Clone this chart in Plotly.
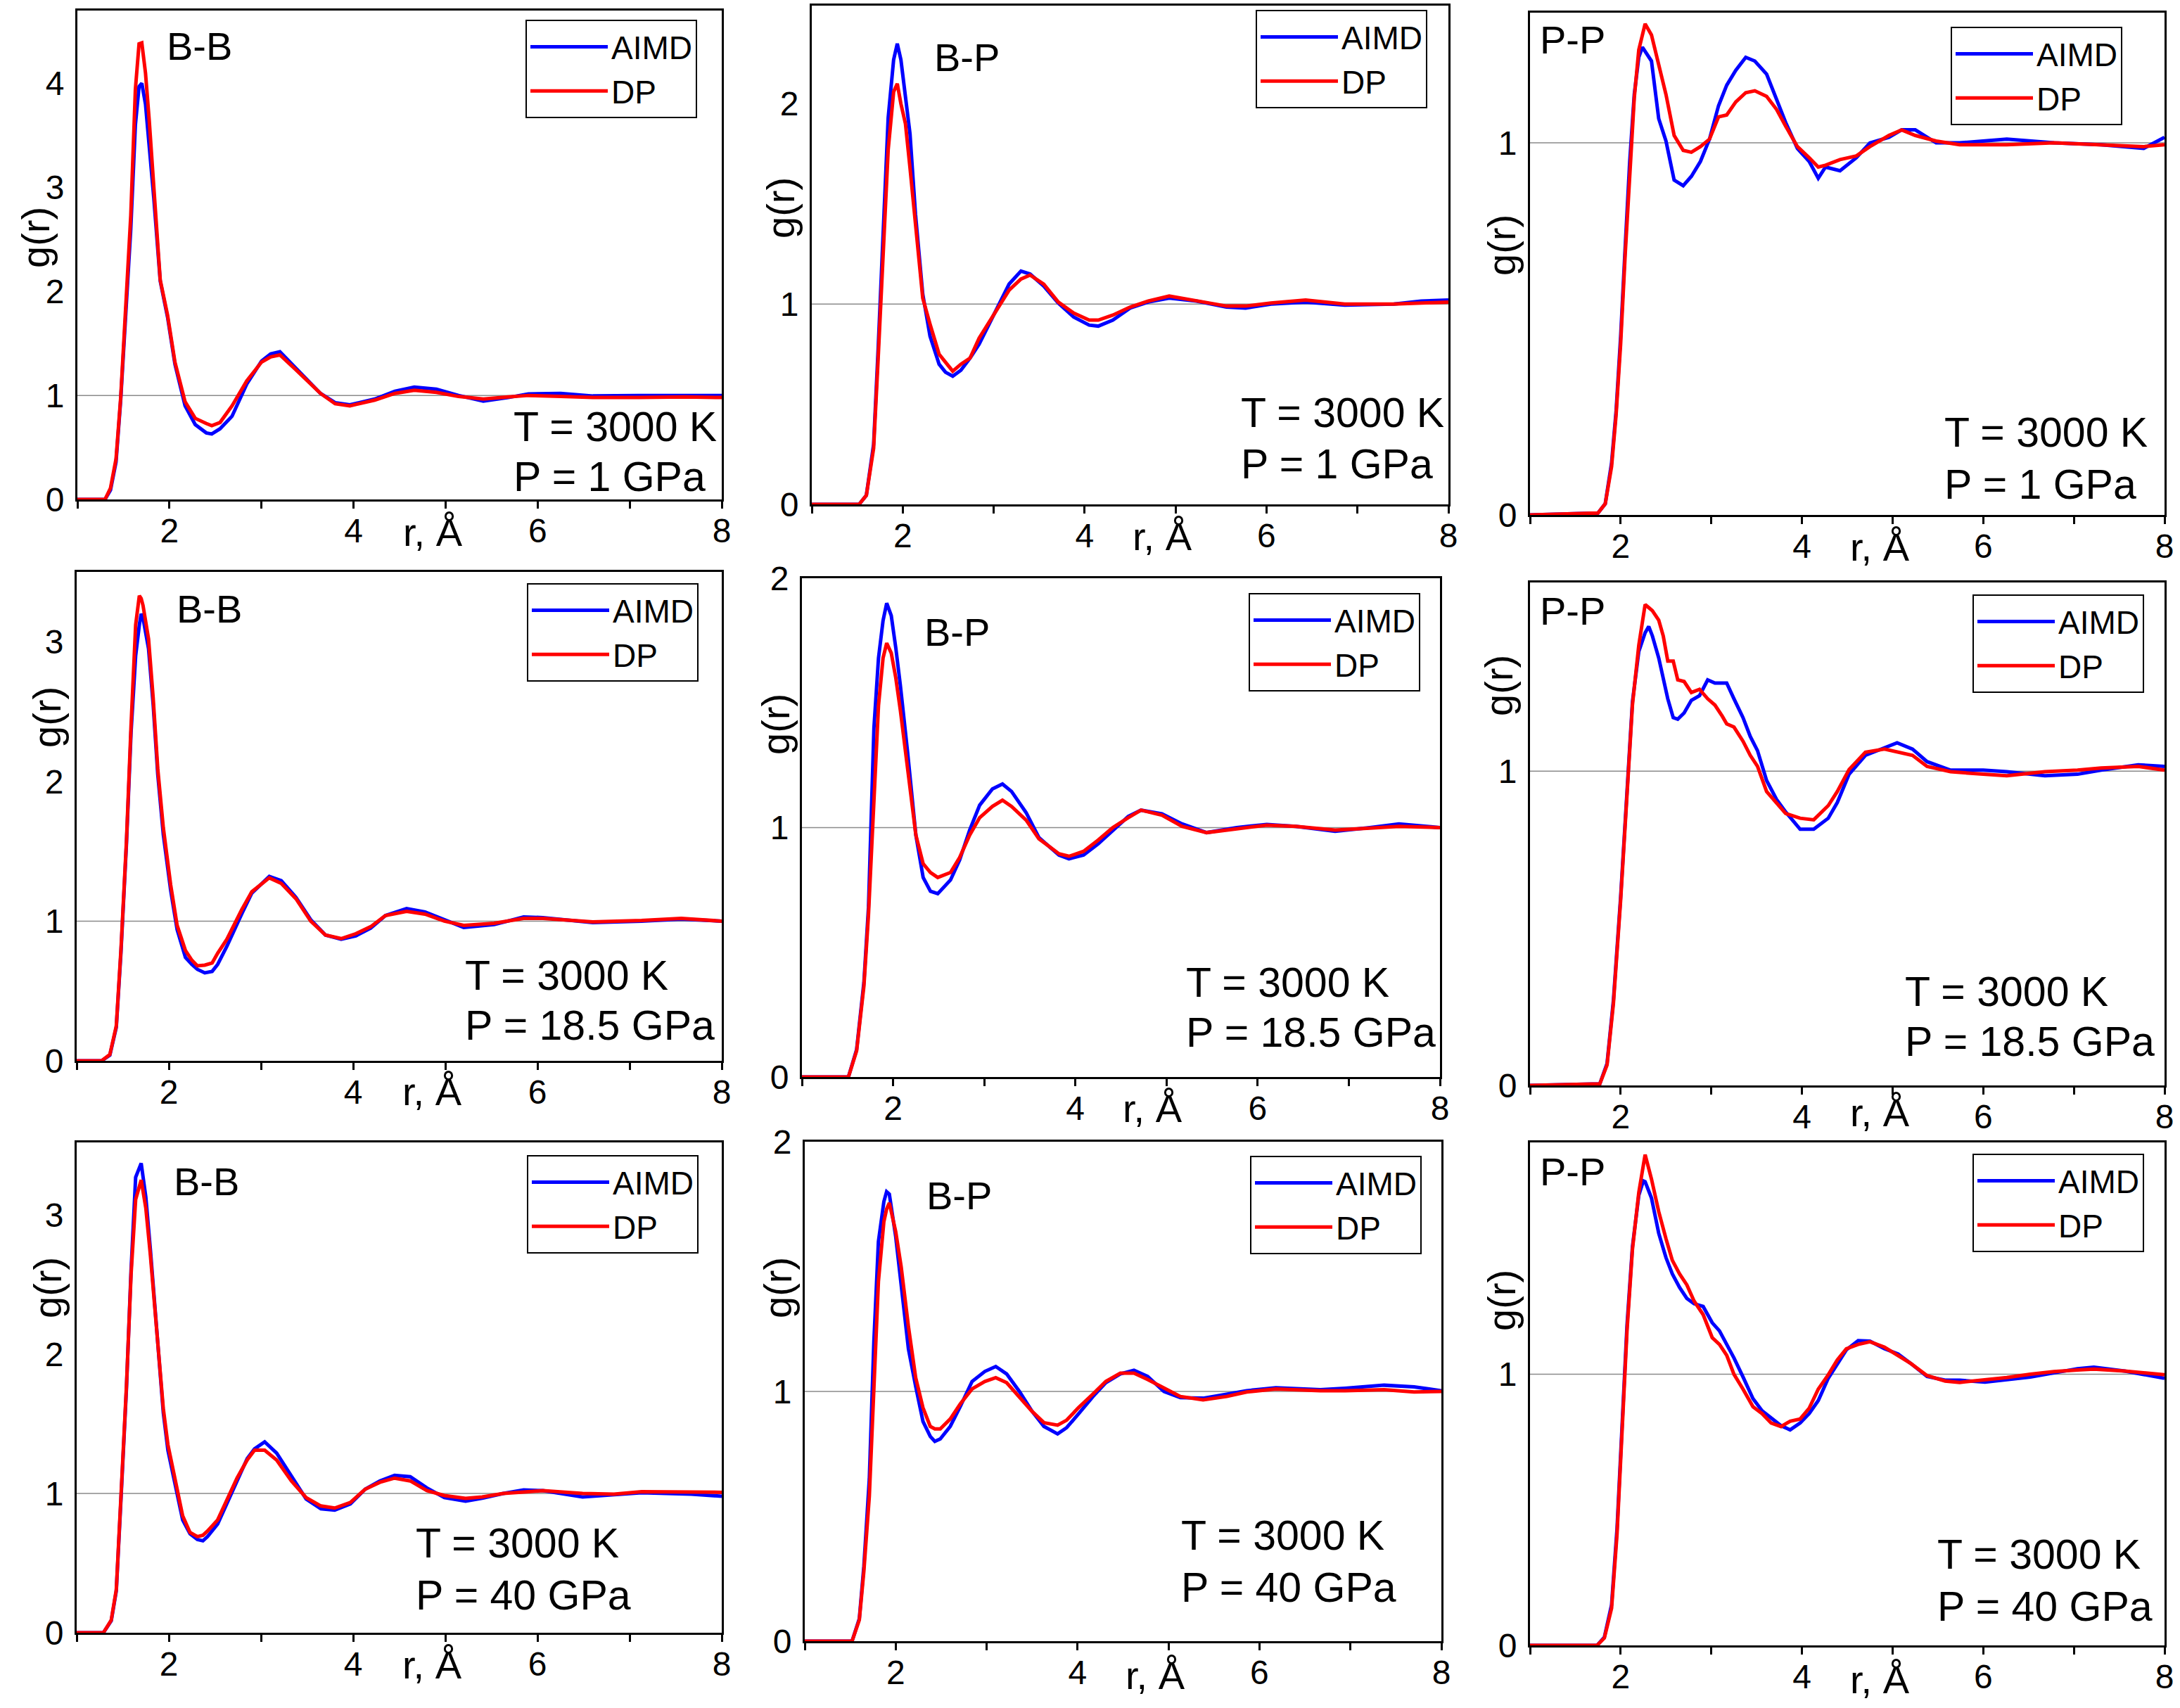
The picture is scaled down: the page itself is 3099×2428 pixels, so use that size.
import plotly.graph_objects as go

W, H = 3099, 2428

# ---- data (r in Angstrom, g(r)) ----
# B-B, 1 GPa
r_bb1 = [1.0, 1.3, 1.36, 1.42, 1.47, 1.52, 1.58, 1.63, 1.67, 1.70, 1.74, 1.78, 1.83, 1.90, 1.98,
         2.06, 2.17, 2.28, 2.40, 2.46, 2.55, 2.68, 2.84, 3.0, 3.10, 3.20, 3.37, 3.52, 3.64, 3.80,
         3.96, 4.23, 4.45, 4.66, 4.90, 5.14, 5.41, 5.68, 5.90, 6.25, 6.6, 7.1, 7.6, 8.0]
aimd_bb1 = [0, 0, 0.09, 0.36, 0.95, 1.72, 2.6, 3.6, 3.97, 4.0, 3.8, 3.4, 2.9, 2.1, 1.75,
            1.3, 0.9, 0.72, 0.64, 0.63, 0.68, 0.80, 1.11, 1.33, 1.40, 1.42, 1.27, 1.13, 1.02, 0.93,
            0.91, 0.965, 1.04, 1.08, 1.06, 1.0, 0.945, 0.98, 1.015, 1.02, 0.995, 1.0, 1.0, 1.0]
dp_bb1 = [0, 0, 0.11, 0.39, 0.97, 1.77, 2.73, 3.94, 4.38, 4.39, 4.1, 3.65, 3.0, 2.11, 1.77,
          1.32, 0.94, 0.78, 0.73, 0.71, 0.74, 0.90, 1.14, 1.32, 1.37, 1.39, 1.25, 1.12, 1.02, 0.92,
          0.90, 0.955, 1.02, 1.05, 1.03, 0.99, 0.965, 0.985, 1.0, 0.99, 0.98, 0.98, 0.985, 0.98]

# B-P, 1 GPa
r_bp1 = [1.0, 1.52, 1.60, 1.68, 1.73, 1.79, 1.84, 1.90, 1.94, 1.98, 2.03, 2.08, 2.14, 2.22, 2.30,
         2.40, 2.47, 2.55, 2.64, 2.74, 2.84, 2.95, 3.05, 3.17, 3.30, 3.40, 3.55, 3.71, 3.88, 4.05,
         4.15, 4.31, 4.50, 4.70, 4.93, 5.23, 5.56, 5.77, 6.05, 6.43, 6.86, 7.40, 7.70, 8.0]
aimd_bp1 = [0, 0, 0.045, 0.30, 0.78, 1.40, 1.93, 2.22, 2.30, 2.22, 2.05, 1.85, 1.45, 1.05, 0.84,
            0.70, 0.66, 0.64, 0.67, 0.73, 0.80, 0.90, 0.99, 1.10, 1.165, 1.15, 1.09, 1.005, 0.935, 0.895,
            0.89, 0.92, 0.98, 1.01, 1.03, 1.015, 0.985, 0.98, 1.0, 1.01, 0.995, 1.0, 1.015, 1.02]
dp_bp1 = [0, 0, 0.045, 0.28, 0.73, 1.27, 1.77, 2.06, 2.10, 2.0, 1.90, 1.68, 1.40, 1.03, 0.90,
          0.75, 0.71, 0.665, 0.70, 0.73, 0.83, 0.91, 0.99, 1.07, 1.125, 1.145, 1.10, 1.01, 0.955, 0.92,
          0.92, 0.945, 0.985, 1.015, 1.04, 1.015, 0.99, 0.99, 1.005, 1.02, 1.0, 1.0, 1.005, 1.01]

# P-P, 1 GPa
r_pp1 = [1.0, 1.4, 1.75, 1.83, 1.90, 1.95, 2.0, 2.05, 2.10, 2.15, 2.20, 2.24, 2.27, 2.34, 2.42,
         2.50, 2.59, 2.69, 2.78, 2.88, 2.98, 3.08, 3.17, 3.27, 3.38, 3.48, 3.61, 3.72, 3.82, 3.95,
         4.08, 4.18, 4.26, 4.42, 4.60, 4.75, 4.96, 5.10, 5.25, 5.48, 5.74, 6.26, 6.78, 7.30, 7.77, 8.0]
aimd_pp1 = [0, 0.003, 0.005, 0.03, 0.14, 0.28, 0.48, 0.72, 0.95, 1.13, 1.23, 1.257, 1.245, 1.22, 1.065,
            1.005, 0.90, 0.885, 0.91, 0.95, 1.01, 1.10, 1.155, 1.195, 1.23, 1.22, 1.185, 1.115, 1.055, 0.985,
            0.95, 0.905, 0.935, 0.925, 0.96, 1.0, 1.015, 1.035, 1.035, 1.0, 1.0, 1.01, 1.0, 0.995, 0.985, 1.015]
dp_pp1 = [0, 0.003, 0.005, 0.03, 0.13, 0.27, 0.46, 0.70, 0.93, 1.12, 1.25, 1.29, 1.32, 1.29, 1.21,
          1.13, 1.02, 0.98, 0.975, 0.99, 1.01, 1.07, 1.075, 1.11, 1.135, 1.14, 1.125, 1.09, 1.045, 0.99,
          0.96, 0.935, 0.94, 0.955, 0.965, 0.99, 1.02, 1.035, 1.02, 1.005, 0.995, 0.995, 1.0, 0.995, 0.99, 0.995]

# B-B, 18.5 GPa
r_bb2 = [1.0, 1.27, 1.36, 1.43, 1.48, 1.54, 1.59, 1.64, 1.68, 1.70, 1.72, 1.78, 1.83, 1.88, 1.94,
         2.02, 2.09, 2.18, 2.25, 2.31, 2.39, 2.47, 2.53, 2.63, 2.79, 2.90, 3.09, 3.22, 3.38, 3.54,
         3.70, 3.87, 4.03, 4.19, 4.35, 4.58, 4.78, 4.99, 5.20, 5.53, 5.85, 6.06, 6.60, 7.13, 7.56, 8.0]
aimd_bb2 = [0, 0, 0.04, 0.24, 0.77, 1.55, 2.35, 2.9, 3.12, 3.20, 3.17, 2.95, 2.55, 2.05, 1.62,
            1.22, 0.94, 0.74, 0.69, 0.655, 0.63, 0.64, 0.69, 0.82, 1.05, 1.20, 1.32, 1.29, 1.17, 1.01,
            0.90, 0.87, 0.895, 0.95, 1.04, 1.09, 1.065, 1.01, 0.955, 0.975, 1.03, 1.025, 0.99, 1.0, 1.015, 1.0]
dp_bb2 = [0, 0, 0.045, 0.25, 0.79, 1.57, 2.40, 3.12, 3.33, 3.31, 3.26, 3.02, 2.60, 2.09, 1.67,
          1.26, 0.97, 0.79, 0.72, 0.68, 0.685, 0.70, 0.77, 0.87, 1.08, 1.21, 1.31, 1.27, 1.16, 1.0,
          0.90, 0.875, 0.91, 0.96, 1.04, 1.07, 1.05, 1.0, 0.97, 0.985, 1.02, 1.02, 0.995, 1.005, 1.02, 1.0]

# B-P, 18.5 GPa
r_bp2 = [1.0, 1.51, 1.60, 1.68, 1.73, 1.79, 1.84, 1.89, 1.93, 1.98, 2.03, 2.08, 2.16, 2.25, 2.33,
         2.41, 2.49, 2.63, 2.73, 2.84, 2.95, 3.09, 3.20, 3.30, 3.46, 3.60, 3.71, 3.82, 3.93, 4.09,
         4.25, 4.41, 4.58, 4.72, 4.95, 5.17, 5.44, 5.77, 6.10, 6.42, 6.85, 7.23, 7.55, 8.0]
aimd_bp2 = [0, 0, 0.11, 0.38, 0.68, 1.40, 1.68, 1.83, 1.90, 1.85, 1.72, 1.57, 1.30, 0.97, 0.80,
            0.745, 0.735, 0.79, 0.87, 0.99, 1.09, 1.155, 1.175, 1.145, 1.06, 0.96, 0.925, 0.89, 0.875, 0.89,
            0.935, 0.99, 1.045, 1.07, 1.055, 1.015, 0.98, 1.0, 1.013, 1.005, 0.985, 1.0, 1.015, 1.0]
dp_bp2 = [0, 0, 0.105, 0.365, 0.65, 1.085, 1.49, 1.68, 1.74, 1.70, 1.60, 1.47, 1.23, 0.97, 0.855,
          0.82, 0.80, 0.82, 0.88, 0.97, 1.04, 1.085, 1.11, 1.085, 1.03, 0.955, 0.925, 0.895, 0.885, 0.905,
          0.95, 1.0, 1.04, 1.07, 1.05, 1.005, 0.98, 0.995, 1.01, 1.005, 0.99, 0.998, 1.005, 1.0]

# P-P, 18.5 GPa
r_pp2 = [1.0, 1.77, 1.85, 1.92, 2.0, 2.07, 2.13, 2.20, 2.27, 2.31, 2.35, 2.42, 2.47, 2.52, 2.58,
         2.63, 2.70, 2.78, 2.87, 2.96, 3.04, 3.12, 3.17, 3.25, 3.35, 3.43, 3.51, 3.61, 3.72, 3.82,
         3.98, 4.13, 4.29, 4.39, 4.52, 4.70, 4.91, 5.05, 5.22, 5.38, 5.64, 6.0, 6.26, 6.68, 7.04,
         7.30, 7.71, 8.0]
aimd_pp2 = [0, 0.005, 0.07, 0.27, 0.60, 0.96, 1.22, 1.38, 1.44, 1.46, 1.43, 1.36, 1.29, 1.23, 1.17,
            1.165, 1.185, 1.225, 1.24, 1.29, 1.28, 1.28, 1.28, 1.23, 1.17, 1.11, 1.065, 0.97, 0.91, 0.87,
            0.815, 0.815, 0.85, 0.90, 0.99, 1.05, 1.075, 1.09, 1.07, 1.03, 1.003, 1.003, 0.998, 0.985, 0.99,
            1.003, 1.02, 1.015]
dp_pp2 = [0, 0.005, 0.065, 0.26, 0.59, 0.95, 1.21, 1.40, 1.53, 1.52, 1.51, 1.48, 1.43, 1.35, 1.35,
          1.29, 1.285, 1.25, 1.26, 1.23, 1.21, 1.175, 1.15, 1.14, 1.095, 1.05, 1.015, 0.935, 0.90, 0.865,
          0.85, 0.845, 0.89, 0.935, 1.005, 1.06, 1.07, 1.06, 1.05, 1.015, 0.998, 0.99, 0.985, 0.998, 1.003,
          1.01, 1.015, 1.003]

# B-B, 40 GPa
r_bb3 = [1.0, 1.29, 1.375, 1.43, 1.48, 1.54, 1.59, 1.64, 1.70, 1.75, 1.80, 1.87, 1.94, 1.99, 2.07,
         2.15, 2.23, 2.31, 2.37, 2.42, 2.53, 2.63, 2.74, 2.85, 2.93, 3.04, 3.17, 3.33, 3.49, 3.65,
         3.80, 3.97, 4.13, 4.29, 4.45, 4.62, 4.80, 4.99, 5.22, 5.40, 5.63, 5.85, 6.06, 6.49, 6.83,
         7.13, 7.67, 8.0]
aimd_bb3 = [0, 0, 0.085, 0.30, 0.95, 1.75, 2.6, 3.27, 3.37, 3.13, 2.75, 2.17, 1.58, 1.31, 1.05,
            0.81, 0.71, 0.67, 0.66, 0.69, 0.78, 0.93, 1.10, 1.25, 1.32, 1.37, 1.29, 1.13, 0.96, 0.89,
            0.88, 0.925, 1.03, 1.09, 1.13, 1.12, 1.04, 0.97, 0.945, 0.965, 1.0, 1.025, 1.02, 0.975, 0.99,
            1.005, 0.995, 0.98]
dp_bb3 = [0, 0, 0.09, 0.31, 0.97, 1.77, 2.57, 3.11, 3.25, 3.05, 2.71, 2.17, 1.61, 1.35, 1.08,
          0.84, 0.72, 0.69, 0.70, 0.73, 0.81, 0.95, 1.11, 1.24, 1.31, 1.31, 1.24, 1.09, 0.97, 0.91,
          0.895, 0.935, 1.03, 1.08, 1.11, 1.09, 1.02, 0.985, 0.965, 0.975, 1.0, 1.01, 1.02, 1.0, 0.995,
          1.013, 1.013, 1.008]

# B-P, 40 GPa
r_bp3 = [1.0, 1.52, 1.60, 1.65, 1.71, 1.76, 1.81, 1.87, 1.90, 1.93, 2.0, 2.06, 2.14, 2.22, 2.30,
         2.38, 2.43, 2.49, 2.60, 2.71, 2.84, 2.98, 3.10, 3.22, 3.36, 3.50, 3.63, 3.78, 3.88, 4.01,
         4.17, 4.31, 4.47, 4.62, 4.77, 4.95, 5.13, 5.38, 5.64, 5.86, 6.18, 6.67, 6.94, 7.37, 7.70, 8.0]
aimd_bp3 = [0, 0, 0.09, 0.30, 0.65, 1.2, 1.60, 1.76, 1.80, 1.79, 1.62, 1.43, 1.17, 1.02, 0.88,
            0.82, 0.80, 0.81, 0.86, 0.94, 1.04, 1.08, 1.10, 1.07, 1.0, 0.92, 0.86, 0.83, 0.855, 0.91,
            0.98, 1.035, 1.07, 1.085, 1.06, 1.0, 0.975, 0.973, 0.99, 1.003, 1.015, 1.007, 1.013, 1.025, 1.018, 1.003]
dp_bp3 = [0, 0, 0.085, 0.28, 0.58, 1.025, 1.44, 1.68, 1.73, 1.755, 1.64, 1.50, 1.26, 1.055, 0.935,
          0.86, 0.85, 0.85, 0.89, 0.95, 1.01, 1.04, 1.055, 1.035, 0.98, 0.92, 0.875, 0.865, 0.885, 0.935,
          0.99, 1.04, 1.073, 1.073, 1.048, 1.015, 0.98, 0.966, 0.98, 0.998, 1.01, 1.003, 1.003, 1.007, 0.998, 1.0]

# P-P, 40 GPa
r_pp3 = [1.0, 1.74, 1.82, 1.90, 1.96, 2.02, 2.07, 2.13, 2.20, 2.25, 2.27, 2.34, 2.42, 2.50, 2.57,
         2.65, 2.73, 2.81, 2.91, 3.01, 3.09, 3.17, 3.25, 3.35, 3.46, 3.56, 3.66, 3.77, 3.87, 3.98,
         4.08, 4.18, 4.29, 4.39, 4.49, 4.62, 4.75, 4.91, 5.06, 5.20, 5.38, 5.58, 5.74, 6.02, 6.26,
         6.52, 6.78, 7.04, 7.22, 7.56, 8.0]
aimd_pp3 = [0, 0, 0.03, 0.15, 0.43, 0.85, 1.18, 1.47, 1.66, 1.713, 1.71, 1.65, 1.52, 1.43, 1.37,
            1.32, 1.28, 1.26, 1.25, 1.19, 1.16, 1.11, 1.06, 0.99, 0.91, 0.865, 0.84, 0.81, 0.795, 0.82,
            0.855, 0.903, 0.985, 1.04, 1.09, 1.124, 1.122, 1.094, 1.075, 1.04, 0.992, 0.978, 0.978, 0.971, 0.98,
            0.99, 1.005, 1.02, 1.026, 1.012, 0.985]
dp_pp3 = [0, 0, 0.027, 0.137, 0.41, 0.82, 1.16, 1.46, 1.67, 1.77, 1.81, 1.72, 1.60, 1.50, 1.42,
          1.37, 1.33, 1.27, 1.22, 1.135, 1.11, 1.07, 1.0, 0.945, 0.88, 0.855, 0.82, 0.807, 0.827, 0.835,
          0.875, 0.945, 0.998, 1.053, 1.094, 1.11, 1.12, 1.10, 1.07, 1.04, 0.995, 0.975, 0.97, 0.978, 0.988,
          1.0, 1.01, 1.016, 1.019, 1.012, 0.998]

series_names = ["AIMD", "DP"]
temperature = "T = 3000 K"
x_ticks = [1, 2, 3, 4, 5, 6, 7, 8]
x_ticktext = ["", "2", "", "4", "", "6", "", "8"]

# ---- panel layout (pixel positions in the 3099x2428 page) ----
panels = [
    dict(r=r_bb1, a=aimd_bb1, d=dp_bb1, pair="B-B", p="P = 1 GPa", ymax=4.7, yt=[0, 1, 2, 3, 4],
         box=(110, 1026, 15, 710), lab=(235, 66), gr=(51, 338), ra=(615, 757), tp=(728, 607, 678), lg=(991, 28)),
    dict(r=r_bp1, a=aimd_bp1, d=dp_bp1, pair="B-P", p="P = 1 GPa", ymax=2.49, yt=[0, 1, 2],
         box=(1154, 2059, 8, 717), lab=(1326, 82), gr=(1109, 296), ra=(1652, 762), tp=(1762, 587, 660), lg=(2029, 14)),
    dict(r=r_pp1, a=aimd_pp1, d=dp_pp1, pair="P-P", p="P = 1 GPa", ymax=1.35, yt=[0, 1],
         box=(2175, 3077, 18, 732), lab=(2187, 57), gr=(2134, 349), ra=(2672, 777), tp=(2762, 615, 689), lg=(3017, 38)),
    dict(r=r_bb2, a=aimd_bb2, d=dp_bb2, pair="B-B", p="P = 18.5 GPa", ymax=3.5, yt=[0, 1, 2, 3],
         box=(109, 1026, 813, 1508), lab=(249, 865), gr=(67, 1020), ra=(614, 1552), tp=(659, 1387, 1458), lg=(993, 829)),
    dict(r=r_bp2, a=aimd_bp2, d=dp_bp2, pair="B-P", p="P = 18.5 GPa", ymax=2.0, yt=[0, 1, 2],
         box=(1140, 2047, 822, 1531), lab=(1312, 898), gr=(1102, 1030), ra=(1638, 1575), tp=(1684, 1397, 1468), lg=(2019, 843)),
    dict(r=r_pp2, a=aimd_pp2, d=dp_pp2, pair="P-P", p="P = 18.5 GPa", ymax=1.6, yt=[0, 1],
         box=(2175, 3077, 828, 1543), lab=(2187, 868), gr=(2130, 975), ra=(2672, 1581), tp=(2706, 1410, 1481), lg=(3048, 845)),
    dict(r=r_bb3, a=aimd_bb3, d=dp_bb3, pair="B-B", p="P = 40 GPa", ymax=3.52, yt=[0, 1, 2, 3],
         box=(109, 1026, 1624, 2321), lab=(245, 1679), gr=(67, 1831), ra=(614, 2366), tp=(589, 2194, 2268), lg=(993, 1642)),
    dict(r=r_bp3, a=aimd_bp3, d=dp_bp3, pair="B-P", p="P = 40 GPa", ymax=2.0, yt=[0, 1, 2],
         box=(1144, 2049, 1623, 2333), lab=(1315, 1699), gr=(1105, 1831), ra=(1642, 2381), tp=(1677, 2183, 2257), lg=(2021, 1643)),
    dict(r=r_pp3, a=aimd_pp3, d=dp_pp3, pair="P-P", p="P = 40 GPa", ymax=1.855, yt=[0, 1],
         box=(2175, 3077, 1624, 2339), lab=(2187, 1665), gr=(2134, 1849), ra=(2672, 2387), tp=(2752, 2210, 2284), lg=(3048, 1640)),
]

FONT = "Liberation Sans, Arial, sans-serif"


def px(x):
    return x / W


def py(y):
    return 1 - y / H


fig = go.Figure()
annotations = []
shapes = []
layout = {}

for i, p in enumerate(panels, start=1):
    sfx = "" if i == 1 else str(i)
    xa, ya, lg = "x" + sfx, "y" + sfx, "legend" + sfx

    fig.add_trace(go.Scatter(x=p["r"], y=p["a"], mode="lines", name=series_names[0],
                             line=dict(color="#0000FF", width=5), xaxis=xa, yaxis=ya, legend=lg))
    fig.add_trace(go.Scatter(x=p["r"], y=p["d"], mode="lines", name=series_names[1],
                             line=dict(color="#FF0000", width=5), xaxis=xa, yaxis=ya, legend=lg))

    x0, x1, y0, y1 = p["box"]
    layout["xaxis" + sfx] = dict(
        domain=[px(x0), px(x1)], anchor=ya, range=[1, 8], automargin=False,
        tickvals=x_ticks, ticktext=x_ticktext, ticks="outside", ticklen=10, tickwidth=3,
        tickcolor="black", ticklabelstandoff=-10,
        showline=True, linecolor="black", linewidth=3, mirror=True,
        showgrid=False, zeroline=False,
        tickfont=dict(family=FONT, size=48, color="black"),
    )
    layout["yaxis" + sfx] = dict(
        domain=[py(y1), py(y0)], anchor=xa, range=[0, p["ymax"]], automargin=False,
        tickvals=p["yt"], ticks="", ticklabelstandoff=6,
        showline=True, linecolor="black", linewidth=3, mirror=True,
        showgrid=False, zeroline=False,
        tickfont=dict(family=FONT, size=48, color="black"),
    )
    layout[lg] = dict(
        x=px(p["lg"][0]), y=py(p["lg"][1]), xanchor="right", yanchor="top",
        bgcolor="white", bordercolor="black", borderwidth=2,
        font=dict(family=FONT, size=46, color="black"),
        itemwidth=110, tracegroupgap=0,
    )

    # reference line at g(r) = 1
    shapes.append(dict(type="line", xref=xa + " domain", yref=ya, x0=0, x1=1, y0=1, y1=1,
                       line=dict(color="#8a8a8a", width=1.5), layer="below"))

    annotations += [
        dict(text=p["pair"], x=px(p["lab"][0]), y=py(p["lab"][1]), xanchor="left", yanchor="middle",
             font=dict(family=FONT, size=56, color="black")),
        dict(text="g(r)", x=px(p["gr"][0]), y=py(p["gr"][1]), xanchor="center", yanchor="middle",
             textangle=-90, font=dict(family=FONT, size=56, color="black")),
        dict(text="r, Å", x=px(p["ra"][0]), y=py(p["ra"][1]), xanchor="center", yanchor="middle",
             font=dict(family=FONT, size=56, color="black")),
        dict(text=temperature, x=px(p["tp"][0]), y=py(p["tp"][1]), xanchor="left", yanchor="middle",
             font=dict(family=FONT, size=59, color="black")),
        dict(text=p["p"], x=px(p["tp"][0]), y=py(p["tp"][2]), xanchor="left", yanchor="middle",
             font=dict(family=FONT, size=59, color="black")),
    ]

for a in annotations:
    a.update(xref="paper", yref="paper", showarrow=False)

fig.update_layout(
    width=W, height=H,
    margin=dict(l=0, r=0, t=0, b=0, autoexpand=False),
    paper_bgcolor="white", plot_bgcolor="white",
    showlegend=True,
    annotations=annotations, shapes=shapes,
    font=dict(family=FONT, color="black"),
    **layout,
)

# drop the browser's default page margin so the figure sits at the window origin
fig.write_html("out.html", config={"displayModeBar": False},
               post_script="document.body.style.margin='0';")
